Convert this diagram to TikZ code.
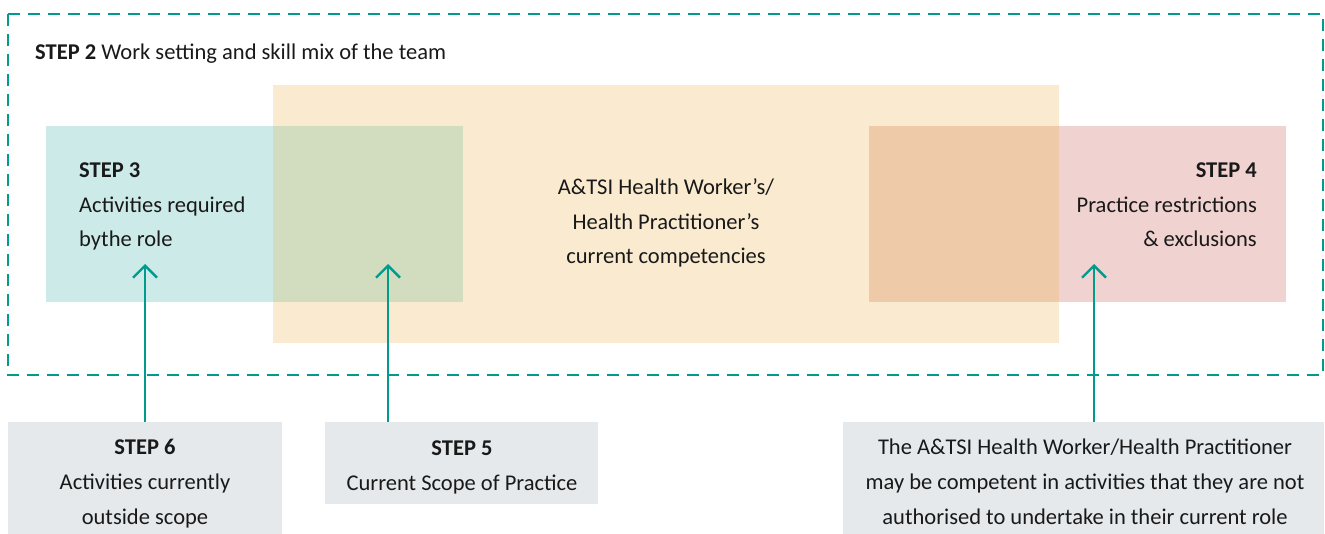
\documentclass[tikz,border=0pt]{standalone}
\usepackage{fontspec}
\setmainfont{Carlito}
\usetikzlibrary{arrows.meta}
\definecolor{tealline}{HTML}{009B8D}
\definecolor{tealbox}{HTML}{CCEAE7}
\definecolor{beigebox}{HTML}{FAEBD0}
\definecolor{pinkbox}{HTML}{F0D2D0}
\definecolor{greenov}{HTML}{D2DCBF}
\definecolor{orangeov}{HTML}{EECAA9}
\definecolor{greybox}{HTML}{E5E9EC}
\tikzset{
  txt/.style={font=\fontsize{22.6}{34.7}\selectfont, inner sep=0pt, text=black!90},
  conn/.style={draw=tealline, line width=2.4bp, -{Straight Barb[length=12bp,width=24bp,line width=2.4bp]}},
}
\begin{document}
\begin{tikzpicture}[x=1bp,y=-1bp]
\useasboundingbox (0,0) rectangle (1325,534);
% dashed frame
\draw[tealline, line width=2.6bp, dash pattern=on 12bp off 8bp] (8,14) rectangle (1323,375);
\node[txt, anchor=base west] (s2) at (35,60) {\textbf{STEP 2} Work setting and skill mix of the team};
% coloured boxes
\fill[beigebox] (273,85) rectangle (1059,343);
\fill[tealbox] (46,126) rectangle (463,302);
\fill[pinkbox] (869,126) rectangle (1286,302);
\fill[greenov] (273,126) rectangle (463,302);
\fill[orangeov] (869,126) rectangle (1059,302);
\node[txt, anchor=base west, align=left] (s3) at (79,247) {\textbf{STEP 3}\\Activities required\\bythe role};
\node[txt, anchor=base east, align=right] (s4) at (1257,247) {\textbf{STEP 4}\\Practice restrictions\\\& exclusions};
\node[txt, anchor=base, align=center] (mid) at (666,264) {A\&TSI Health Worker’s/\\Health Practitioner’s\\current competencies};
% targets
\coordinate (t6) at (145,264);
\coordinate (t5) at (388,264);
\coordinate (t7) at (1094,264);
% bottom boxes
\fill[greybox] (8,422) rectangle (282,534);
\fill[greybox] (325,422) rectangle (598,504);
\fill[greybox] (843,422) rectangle (1324,534);
\node[txt, anchor=base, align=center] (s6) at (145,524) {\textbf{STEP 6}\\Activities currently\\outside scope};
\node[txt, anchor=base, align=center] (s5) at (462,490) {\textbf{STEP 5}\\Current Scope of Practice};
\node[txt, anchor=base, align=center] (s7) at (1085,524) {The A\&TSI Health Worker/Health Practitioner\\may be competent in activities that they are not\\authorised to undertake in their current role};
\coordinate (b6) at (145,422);
\coordinate (b5) at (388,422);
\coordinate (b7) at (1094,422);
\draw[conn] (b6) -- (t6);
\draw[conn] (b5) -- (t5);
\draw[conn] (b7) -- (t7);
\end{tikzpicture}
\end{document}
